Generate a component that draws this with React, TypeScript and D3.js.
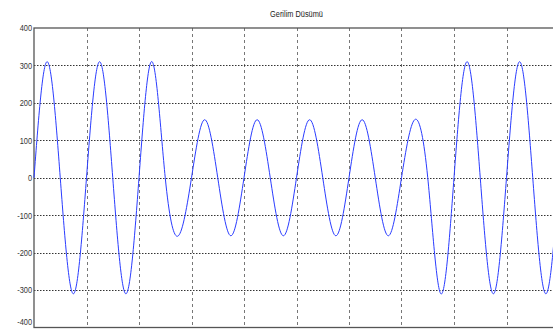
import { useRef, useEffect } from 'react';
import * as d3 from 'd3';

// time in ms, sampled at quarter periods of a 50 Hz wave
const timeMs = [
  0, 5, 10, 15, 20, 25, 30, 35, 40, 45, 50, 55, 60, 65, 70, 75, 80, 85, 90, 95,
  100, 105, 110, 115, 120, 125, 130, 135, 140, 145, 150, 155, 160, 165, 170, 175, 180, 185, 190, 195, 200,
];
// voltage at those instants (peaks / zero crossings)
const voltage = [
  0, 310, 0, -310, 0, 310, 0, -310, 0, 310, 0, -155, 0, 155, 0, -155, 0, 155, 0, -155,
  0, 155, 0, -155, 0, 155, 0, -155, 0, 155, 0, -310, 0, 310, 0, -310, 0, 310, 0, -310, 0,
];
const yTicks = [-400, -300, -200, -100, 0, 100, 200, 300, 400];
const xTicks = [0, 20, 40, 60, 80, 100, 120, 140, 160, 180, 200];
const title = 'Gerilim Düsümü';

export default function App() {
  const svgRef = useRef<SVGSVGElement>(null);

  useEffect(() => {
    if (!svgRef.current) return;
    const svg = d3.select(svgRef.current);
    svg.selectAll('*').remove();

    const width = 553;
    const height = 329;
    const left = 34, right = 559, top = 28, bottom = 327.5;

    const x = d3.scaleLinear().domain([0, 200]).range([left, right]);
    const y = d3.scaleLinear().domain([-400, 400]).range([bottom, top]);

    svg.attr('width', width).attr('height', height);

    const font = '"Liberation Sans", Arial, sans-serif';

    // vertical grid
    svg.append('g')
      .selectAll('line')
      .data(xTicks.slice(1, -1))
      .join('line')
      .attr('x1', d => Math.round(x(d)) + 0.5)
      .attr('x2', d => Math.round(x(d)) + 0.5)
      .attr('y1', top)
      .attr('y2', bottom)
      .attr('stroke', '#777')
      .attr('stroke-width', 1)
      .attr('stroke-dasharray', '3,3');

    // horizontal grid
    svg.append('g')
      .selectAll('line')
      .data(yTicks.slice(1, -1))
      .join('line')
      .attr('x1', left)
      .attr('x2', right)
      .attr('y1', d => Math.round(y(d)) + 0.5)
      .attr('y2', d => Math.round(y(d)) + 0.5)
      .attr('stroke', '#333')
      .attr('stroke-width', 1)
      .attr('stroke-dasharray', '1.5,1.5');

    // frame
    svg.append('rect')
      .attr('x', left)
      .attr('y', top)
      .attr('width', right - left)
      .attr('height', bottom - top)
      .attr('fill', 'none')
      .attr('stroke', '#555')
      .attr('stroke-width', 1.3);

    // y axis labels (narrow, like the original)
    svg.append('g')
      .selectAll('text')
      .data(yTicks)
      .join('text')
      .attr('transform', d => `translate(${left - 2},${Math.min(y(d), 322)}) scale(0.78,1)`)
      .attr('dy', '0.35em')
      .attr('text-anchor', 'end')
      .attr('font-family', font)
      .attr('font-size', '9.5px')
      .attr('fill', '#333')
      .text(d => d);

    // signal
    const pts = timeMs.map((t, i) => [t, voltage[i]] as [number, number]);
    const line = d3.line<[number, number]>()
      .x(d => x(d[0]))
      .y(d => y(d[1]))
      .curve(d3.curveNatural);

    svg.append('path')
      .datum(pts)
      .attr('d', line)
      .attr('fill', 'none')
      .attr('stroke', '#2a3cff')
      .attr('stroke-width', 1);

    // title
    svg.append('text')
      .attr('transform', `translate(${(left + right) / 2},17) scale(0.82,1)`)
      .attr('text-anchor', 'middle')
      .attr('font-family', font)
      .attr('font-size', '9px')
      .attr('fill', '#222')
      .text(title);
  }, []);

  return (
    <svg
      ref={svgRef}
      style={{ position: 'absolute', left: 0, top: 0, display: 'block', overflow: 'hidden', background: '#fff' }}
    />
  );
}
